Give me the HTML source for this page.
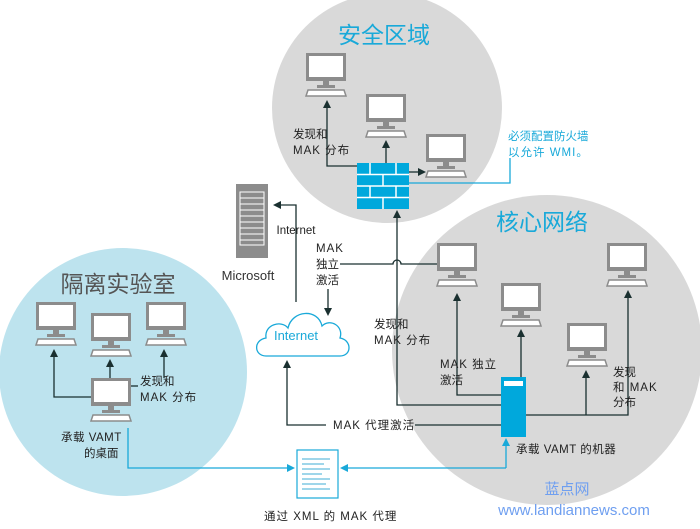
<!DOCTYPE html>
<html><head><meta charset="utf-8"><style>
html,body{margin:0;padding:0;background:#fff;}
svg{display:block;}
text{font-family:"Liberation Sans","Noto Sans CJK SC",sans-serif;}
</style></head><body>
<svg width="700" height="529" viewBox="0 0 700 529" xmlns="http://www.w3.org/2000/svg">
<defs>
<g id="mon">
  <rect x="0" y="0" width="40" height="28" fill="#8c8c8c"/>
  <rect x="3" y="3" width="34" height="21" fill="#fff"/>
  <rect x="17" y="28" width="6" height="4" fill="#8c8c8c"/>
  <rect x="11" y="32" width="18" height="3" fill="#8c8c8c"/>
  <path d="M2 37 H38 L40 43 H0 Z" fill="#fff" stroke="#8c8c8c" stroke-width="1.5"/>
</g>
<marker id="ak" markerWidth="8" markerHeight="8" refX="4" refY="4" orient="auto" markerUnits="userSpaceOnUse"><path d="M0 0 L8 4 L0 8 Z" fill="#1a3030"/></marker>
<marker id="ab" markerWidth="8" markerHeight="8" refX="4" refY="4" orient="auto" markerUnits="userSpaceOnUse"><path d="M0 0 L8 4 L0 8 Z" fill="#19a9d9"/></marker>
</defs>
<!-- circles -->
<circle cx="387" cy="108" r="115" fill="#d9d9d9"/>
<circle cx="547" cy="350" r="155" fill="#d9d9d9"/>
<circle cx="123" cy="372" r="124" fill="#bde3ee"/>

<!-- titles -->
<text x="384" y="43" font-size="23" fill="#19a9d9" text-anchor="middle">安全区域</text>
<text x="542" y="230" font-size="23" fill="#19a9d9" text-anchor="middle">核心网络</text>
<text x="118" y="292" font-size="23" fill="#555" text-anchor="middle">隔离实验室</text>

<!-- security monitors -->
<use href="#mon" x="306" y="53"/>
<use href="#mon" x="366" y="94"/>
<use href="#mon" x="426" y="134"/>
<!-- core monitors -->
<use href="#mon" x="437" y="243"/>
<use href="#mon" x="501" y="283"/>
<use href="#mon" x="567" y="323"/>
<use href="#mon" x="607" y="243"/>
<!-- lab monitors -->
<use href="#mon" x="36" y="302"/>
<use href="#mon" x="91" y="313"/>
<use href="#mon" x="146" y="302"/>
<use href="#mon" x="91" y="378"/>

<g stroke="#1a3030" stroke-width="1.3" fill="none">
  <!-- security -->
  <path d="M357 166 H327 V104" marker-end="url(#ak)"/>
  <path d="M386 163 V144" marker-end="url(#ak)"/>
  <path d="M409 172 H422" marker-end="url(#ak)"/>
  <!-- microsoft -->
  <path d="M296 302 V205 H277" marker-end="url(#ak)"/>
  <path d="M340 264 H393 A4 4 0 0 1 401 264 H437"/>
  <path d="M328 289 V312" marker-end="url(#ak)"/>
  <!-- core -->
  <path d="M501 405 H397 V214" marker-end="url(#ak)"/>
  <path d="M501 395 H457 V297" marker-end="url(#ak)"/>
  <path d="M521 377 V333" marker-end="url(#ak)"/>
  <path d="M526 415 H628 V294" marker-end="url(#ak)"/>
  <path d="M586 415 V374" marker-end="url(#ak)"/>
  <path d="M501 425 H415"/>
  <path d="M326 425 H287 V364" marker-end="url(#ak)"/>
  <!-- lab -->
  <path d="M91 397 H54 V353" marker-end="url(#ak)"/>
  <path d="M110 378 V363" marker-end="url(#ak)"/>
  <path d="M164 378 V353" marker-end="url(#ak)"/>
  <path d="M131 386 H138"/>
</g>
<g stroke="#19a9d9" stroke-width="1.3" fill="none">
  <path d="M409 183 H510 V158"/>
  <path d="M506 468 V442" marker-end="url(#ab)"/>
  <path d="M506 468 H344" marker-end="url(#ab)"/>
  <path d="M128 428 V468 H291" marker-end="url(#ab)"/>
</g>

<!-- firewall -->
<g>
  <rect x="357" y="163" width="52" height="46" fill="#00a8dc"/>
  <g stroke="#fff" stroke-width="1.5">
    <line x1="357" y1="174.5" x2="409" y2="174.5"/>
    <line x1="357" y1="186" x2="409" y2="186"/>
    <line x1="357" y1="197.5" x2="409" y2="197.5"/>
    <line x1="370" y1="163" x2="370" y2="174.5"/><line x1="396" y1="163" x2="396" y2="174.5"/>
    <line x1="383" y1="174.5" x2="383" y2="186"/>
    <line x1="370" y1="186" x2="370" y2="197.5"/><line x1="396" y1="186" x2="396" y2="197.5"/>
    <line x1="383" y1="197.5" x2="383" y2="209"/>
  </g>
</g>

<!-- Microsoft server -->
<rect x="236" y="184" width="32" height="74" fill="#8c8c8c"/>
<g stroke="#fff" stroke-width="1" fill="none">
  <rect x="240" y="192" width="24" height="53"/>
  <line x1="240" y1="198" x2="264" y2="198"/><line x1="240" y1="204" x2="264" y2="204"/>
  <line x1="240" y1="210" x2="264" y2="210"/><line x1="240" y1="216" x2="264" y2="216"/>
  <line x1="240" y1="222" x2="264" y2="222"/><line x1="240" y1="228" x2="264" y2="228"/>
  <line x1="240" y1="234" x2="264" y2="234"/><line x1="240" y1="240" x2="264" y2="240"/>
</g>
<text x="248" y="280" font-size="13" fill="#333" text-anchor="middle">Microsoft</text>

<!-- cloud -->
<path d="M266 356 C254 356 253 340 266 338 C264 324 282 320 288 328 C292 310 318 308 322 326 C330 318 344 326 340 338 C352 340 352 356 340 356 Z" fill="#fff" stroke="#19a9d9" stroke-width="1.3"/>
<text x="296" y="340" font-size="13" fill="#19a9d9" text-anchor="middle">Internet</text>

<!-- VAMT server -->
<rect x="501" y="377" width="25" height="60" fill="#00a8dc"/>
<rect x="504" y="381" width="19" height="5" fill="#fff"/>

<!-- XML doc -->
<rect x="297" y="450" width="41" height="48" fill="#fff" stroke="#19a9d9" stroke-width="1.2"/>
<g stroke="#9fd6ea" stroke-width="2">
  <line x1="302" y1="459" x2="330" y2="459"/><line x1="302" y1="464" x2="324" y2="464"/>
  <line x1="302" y1="469" x2="330" y2="469"/><line x1="302" y1="474" x2="322" y2="474"/>
  <line x1="302" y1="479" x2="330" y2="479"/><line x1="302" y1="484" x2="326" y2="484"/>
  <line x1="302" y1="489" x2="330" y2="489"/>
</g>

<!-- labels -->
<g font-size="11.5" fill="#222">
  <text x="293" y="138">发现和</text>
  <text x="293" y="154" letter-spacing="1">MAK 分布</text>
  <text x="296" y="234" text-anchor="middle">Internet</text>
  <text x="316" y="252" letter-spacing="1">MAK</text>
  <text x="316" y="268">独立</text>
  <text x="316" y="284">激活</text>
  <text x="374" y="328">发现和</text>
  <text x="374" y="344" letter-spacing="1">MAK 分布</text>
  <text x="440" y="368" letter-spacing="1">MAK 独立</text>
  <text x="440" y="384">激活</text>
  <text x="613" y="376">发现</text>
  <text x="613" y="391" letter-spacing="1">和 MAK</text>
  <text x="613" y="406">分布</text>
  <text x="333" y="429" letter-spacing="1">MAK 代理激活</text>
  <text x="516" y="453" letter-spacing="0.5">承载 VAMT 的机器</text>
  <text x="140" y="385">发现和</text>
  <text x="140" y="401" letter-spacing="1">MAK 分布</text>
  <text x="61" y="441" letter-spacing="0.5">承载 VAMT</text>
  <text x="84" y="457">的桌面</text>
  <text x="264" y="520" letter-spacing="1">通过 XML 的 MAK 代理</text>
</g>
<g font-size="11.5" fill="#19a9d9">
  <text x="508" y="140">必须配置防火墙</text>
  <text x="508" y="156" letter-spacing="1">以允许 WMI。</text>
</g>
<text x="567" y="494" font-size="15" fill="#6f9ff0" text-anchor="middle">蓝点网</text>
<text x="574" y="515" font-size="15" fill="#6f9ff0" text-anchor="middle">www.landiannews.com</text>
</svg>
</body></html>
